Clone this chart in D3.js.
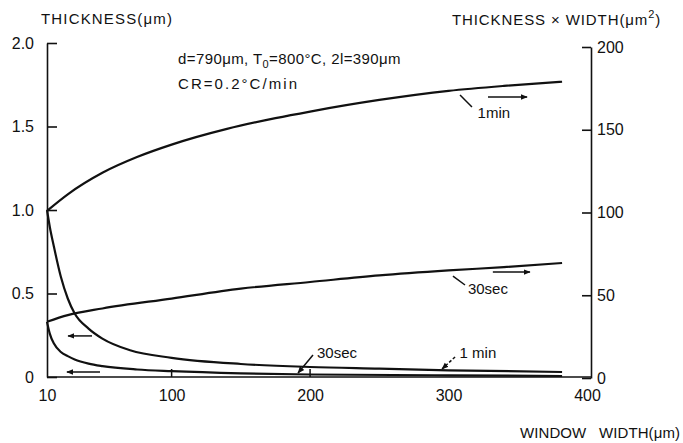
<!DOCTYPE html>
<html>
<head>
<meta charset="utf-8">
<title>Thickness vs window width</title>
<script src="https://d3js.org/d3.v7.min.js"></script>
<style>
  body { margin: 0; background: #fff; }
  svg { font-family: "Liberation Sans", Arial, sans-serif; }
  text { fill: #111; }
  .axis path, .axis line { stroke: #111; stroke-width: 1.6; }
  .curve { fill: none; stroke: #111; stroke-width: 2.2; }
  .note { stroke: #111; stroke-width: 1.5; fill: none; }
</style>
</head>
<body>
<svg width="683" height="443"></svg>
<script>
// window width (um) for each curve
const riseX1min = [10, 25, 50, 75, 100, 140, 175, 200, 250, 300, 340, 382];
const riseX30sec = [10, 25, 50, 100, 150, 200, 250, 300, 340, 382];
const fallX1min = [10, 12, 15, 20, 25, 30, 40, 50, 70, 100, 150, 200, 250, 300, 382];
const fallX30sec = [10, 12, 15, 20, 25, 30, 40, 50, 75, 100, 150, 200, 300, 382];

// thickness x width (um^2), right axis
const rise1min = [101, 111, 124, 133.5, 141, 150.5, 157, 161, 168, 173.5, 176.5, 179];
const rise30sec = [34, 38, 42, 48, 54, 58, 62, 65, 67, 69.5];

// thickness (um), left axis
const fall1min = [1.0, 0.9, 0.78, 0.6, 0.47, 0.38, 0.29, 0.23, 0.16, 0.115, 0.078, 0.06, 0.05, 0.04, 0.03];
const fall30sec = [0.33, 0.26, 0.2, 0.15, 0.125, 0.105, 0.08, 0.065, 0.045, 0.035, 0.022, 0.015, 0.01, 0.006];

const xTicks = [10, 100, 200, 300, 400];
const xMarks = [100, 200];
const leftTicks = [0, 0.5, 1.0, 1.5, 2.0];
const rightTicks = [0, 50, 100, 150, 200];

const svg = d3.select("svg");

const x = d3.scaleLinear().domain([10, 400]).range([47, 587]);
const yL = d3.scaleLinear().domain([0, 2]).range([377, 43]);
const yR = d3.scaleLinear().domain([0, 200]).range([378, 47]);
const rightX = x(400) + 4;

// arrow head
svg.append("defs").append("marker")
    .attr("id", "head")
    .attr("viewBox", "0 0 10 10")
    .attr("refX", 9).attr("refY", 5)
    .attr("markerWidth", 7).attr("markerHeight", 7)
    .attr("markerUnits", "userSpaceOnUse")
    .attr("orient", "auto-start-reverse")
    .append("path")
    .attr("d", "M0,1 L10,5 L0,9 Z")
    .attr("fill", "#111");

// left axis
svg.append("g")
    .attr("class", "axis")
    .attr("transform", `translate(${x(10)},0)`)
    .call(d3.axisLeft(yL).tickValues(leftTicks).tickSize(-10).tickSizeOuter(0).tickPadding(13)
        .tickFormat(d => d === 0 ? "0" : d3.format(".1f")(d)))
    .call(g => g.selectAll("text").attr("font-size", 16).attr("font-family", "Liberation Sans, Arial, sans-serif"));

// right axis
svg.append("g")
    .attr("class", "axis")
    .attr("transform", `translate(${rightX},0)`)
    .call(d3.axisRight(yR).tickValues(rightTicks).tickSize(-9).tickSizeOuter(0).tickPadding(6))
    .call(g => g.selectAll("text").attr("font-size", 16).attr("font-family", "Liberation Sans, Arial, sans-serif"));

// bottom axis: labels only, line drawn across to the right axis
svg.append("g")
    .attr("class", "axis")
    .attr("transform", `translate(0,${yL(0)})`)
    .call(d3.axisBottom(x).tickValues(xTicks).tickSize(0).tickPadding(13))
    .call(g => g.select(".domain").remove())
    .call(g => g.selectAll("text").attr("font-size", 16).attr("font-family", "Liberation Sans, Arial, sans-serif"));

svg.append("line")
    .attr("class", "note")
    .attr("x1", x(10)).attr("x2", rightX)
    .attr("y1", yL(0)).attr("y2", yL(0))
    .attr("stroke-width", 1.6);

svg.selectAll(".xmark")
    .data(xMarks)
    .enter().append("line")
    .attr("class", "note xmark")
    .attr("x1", d => x(d)).attr("x2", d => x(d))
    .attr("y1", yL(0)).attr("y2", yL(0) - 8)
    .attr("stroke-width", 1.2);

// curves
const lineL = d3.line().x(d => x(d[0])).y(d => yL(d[1])).curve(d3.curveMonotoneX);
const lineR = d3.line().x(d => x(d[0])).y(d => yR(d[1])).curve(d3.curveMonotoneX);

svg.append("path").attr("class", "curve").attr("d", lineR(d3.zip(riseX1min, rise1min)));
svg.append("path").attr("class", "curve").attr("d", lineR(d3.zip(riseX30sec, rise30sec)));
svg.append("path").attr("class", "curve").attr("d", lineL(d3.zip(fallX1min, fall1min)));
svg.append("path").attr("class", "curve").attr("d", lineL(d3.zip(fallX30sec, fall30sec)));

// axis titles
svg.append("text")
    .attr("x", 41).attr("y", 24)
    .attr("font-size", 15)
    .attr("textLength", 131).attr("lengthAdjust", "spacing")
    .text("THICKNESS(μm)");

const rt = svg.append("text")
    .attr("x", 452).attr("y", 25)
    .attr("font-size", 15)
    .attr("letter-spacing", 0.9);
rt.append("tspan").text("THICKNESS × WIDTH(μm");
rt.append("tspan").attr("font-size", 11).attr("dy", -7).text("2");
rt.append("tspan").attr("dy", 7).text(")");

svg.append("text")
    .attr("x", 520).attr("y", 438)
    .attr("font-size", 15)
    .attr("xml:space", "preserve")
    .attr("textLength", 160).attr("lengthAdjust", "spacing")
    .text("WINDOW   WIDTH(μm)");

// conditions
const c1 = svg.append("text")
    .attr("x", 178).attr("y", 64)
    .attr("font-size", 15)
    .attr("letter-spacing", 0.4);
c1.append("tspan").text("d=790μm, T");
c1.append("tspan").attr("font-size", 11).attr("dy", 4).text("0");
c1.append("tspan").attr("dy", -4).text("=800°C, 2l=390μm");

svg.append("text")
    .attr("x", 178).attr("y", 89)
    .attr("font-size", 15)
    .attr("textLength", 119).attr("lengthAdjust", "spacing")
    .text("CR=0.2°C/min");

// curve labels, leaders and direction arrows (data units)
const labels = [
    { text: "1min", x: 321, y: yR(157) },
    { text: "30sec", x: 314, y: yR(50.8) },
    { text: "30sec", x: 205, y: yL(0.114) },
    { text: "1 min", x: 308, y: yL(0.114) }
];
svg.selectAll(".lbl")
    .data(labels)
    .enter().append("text")
    .attr("class", "lbl")
    .attr("x", d => x(d.x)).attr("y", d => d.y)
    .attr("font-size", 15)
    .text(d => d.text);

const leaders = [
    { x1: 308.3, y1: yR(171), x2: 316.9, y2: yR(163.7), dash: null, head: false },
    { x1: 303.2, y1: yR(61.6), x2: 311.9, y2: yR(56.2), dash: null, head: false },
    { x1: 202.1, y1: yL(0.132), x2: 191.3, y2: yL(0.024), dash: null, head: true },
    { x1: 304.7, y1: yL(0.12), x2: 295.3, y2: yL(0.048), dash: "3,2", head: true }
];
svg.selectAll(".leader")
    .data(leaders)
    .enter().append("line")
    .attr("class", "note leader")
    .attr("x1", d => x(d.x1)).attr("y1", d => d.y1)
    .attr("x2", d => x(d.x2)).attr("y2", d => d.y2)
    .attr("stroke-dasharray", d => d.dash)
    .attr("marker-end", d => d.head ? "url(#head)" : null);

const arrows = [
    { x1: 328.5, x2: 356.7, y: yR(169.8) },
    { x1: 332, x2: 358.8, y: yR(64) },
    { x1: 42.5, x2: 25.2, y: yL(0.246) },
    { x1: 48.3, x2: 24.4, y: yL(0.03) }
];
svg.selectAll(".dir")
    .data(arrows)
    .enter().append("line")
    .attr("class", "note dir")
    .attr("x1", d => x(d.x1)).attr("x2", d => x(d.x2))
    .attr("y1", d => d.y).attr("y2", d => d.y)
    .attr("marker-end", "url(#head)");
</script>
</body>
</html>
